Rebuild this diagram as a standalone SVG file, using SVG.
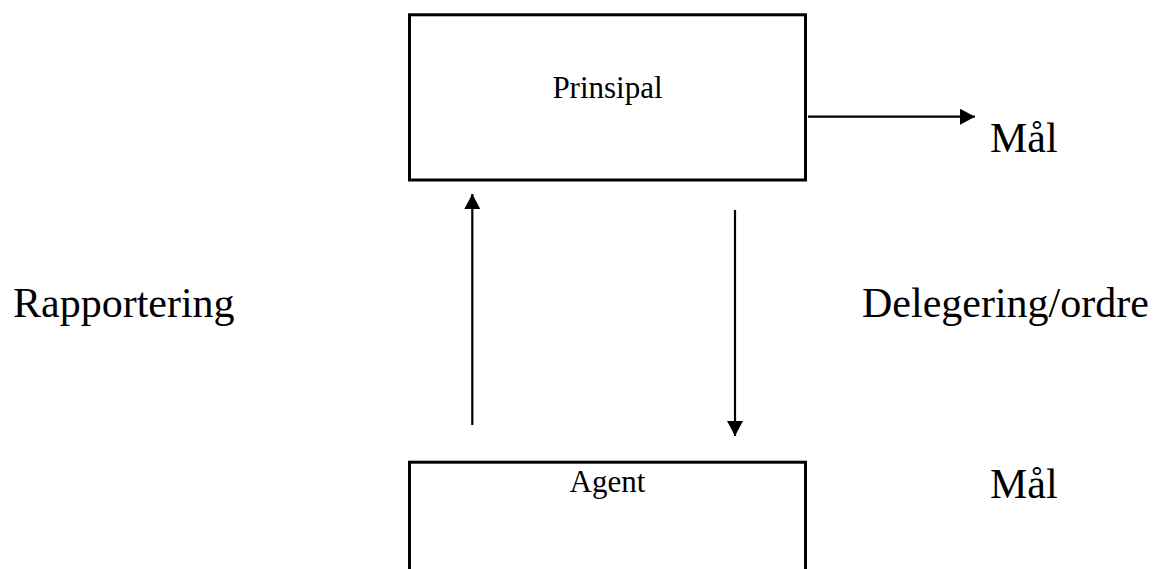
<svg xmlns="http://www.w3.org/2000/svg" width="1157" height="569" viewBox="0 0 1157 569">
<defs>
<style>
.box{fill:#fff;stroke:#000;stroke-width:3}
.conn{stroke:#000;stroke-width:2.2;fill:none}
.t{font-family:"Liberation Serif","Times New Roman",serif;fill:#000}
.big{font-size:42px}
.small{font-size:31px}
</style>
<marker id="arr" markerUnits="userSpaceOnUse" markerWidth="16" markerHeight="16" refX="15" refY="8" orient="auto">
<path d="M0,0 L15,8 L0,16 z" fill="#000"/>
</marker>
</defs>
<rect width="1157" height="569" fill="#fff"/>
<g id="prinsipal">
<rect class="box" x="409.5" y="14.8" width="396" height="165.2"/>
<text class="t small" x="607.5" y="98" text-anchor="middle">Prinsipal</text>
</g>
<g id="agent">
<rect class="box" x="409.5" y="462.2" width="396" height="130"/>
<text class="t small" x="607.5" y="492" text-anchor="middle">Agent</text>
</g>
<g id="labels">
<text class="t big" x="990" y="152">Mål</text>
<text class="t big" x="990" y="498">Mål</text>
<text class="t big" x="13" y="317">Rapportering</text>
<text class="t big" x="862" y="317">Delegering/ordre</text>
</g>
<g id="connectors">
<line class="conn" x1="808" y1="116.7" x2="975" y2="116.7" marker-end="url(#arr)"/>
<line class="conn" x1="472.3" y1="425" x2="472.3" y2="194" marker-end="url(#arr)"/>
<line class="conn" x1="735" y1="210" x2="735" y2="436" marker-end="url(#arr)"/>
</g>
</svg>
